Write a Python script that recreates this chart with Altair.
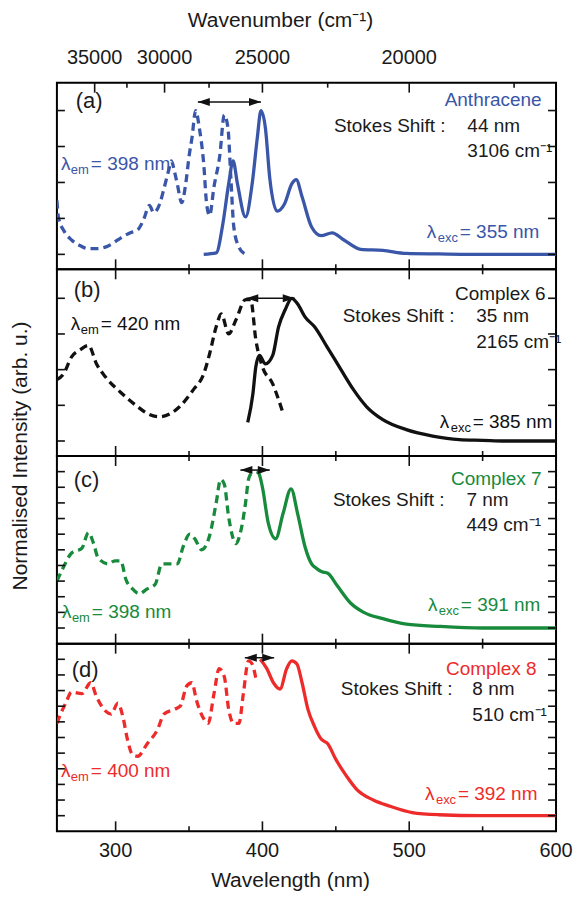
import altair as alt
import pandas as pd

FONT = "Liberation Sans"
BLUE = "#3a56a8"
GREEN = "#188a3c"
RED = "#ee2b2b"
BLACK = "#111111"
TXT = "#1a1a1a"

# ---------------- data (wavelength nm, normalised intensity) ----------------
# (a) Anthracene
ex_a_x = [260, 261, 265, 270, 276, 281, 287, 293, 297, 301.5, 306, 310, 315, 319, 323, 326, 330, 333, 336, 338,
          340, 342, 345, 348, 350, 352, 354.5, 357, 360, 362, 364, 367, 371, 374, 376.5, 378.5, 380.5, 384, 388.5]
ex_a_y = [0.375, 0.26, 0.16, 0.10, 0.06, 0.04, 0.04, 0.05, 0.07, 0.10, 0.13, 0.15, 0.17, 0.24, 0.34, 0.29, 0.35, 0.46, 0.58, 0.65,
          0.58, 0.49, 0.36, 0.51, 0.68, 0.81, 1.0, 0.88, 0.63, 0.35, 0.27, 0.47, 0.69, 0.97, 0.88, 0.53, 0.19, 0.05, 0.0]
em_a_x = [360, 368.5, 373, 377, 380, 383, 388.5, 393, 396.5, 399, 402, 405, 410, 415, 420, 423, 427, 433.5, 440,
          447.5, 455.5, 467, 482, 498, 520, 542, 570, 600]
em_a_y = [0.0, 0.01, 0.21, 0.49, 0.65, 0.49, 0.26, 0.49, 0.81, 1.0, 0.88, 0.53, 0.30, 0.35, 0.49, 0.52, 0.40, 0.19, 0.13,
          0.15, 0.10, 0.035, 0.028, 0.007, 0.003, 0.0, 0.0, 0.0]

# (b) Complex 6
ex_b_x = [260, 264.5, 270, 276, 281.5, 287, 293, 303.5, 315, 322, 330, 337, 343.5, 353, 360, 364, 368.5, 372, 377,
          382, 388.5, 392, 395.5, 400, 407, 411, 414.5]
ex_b_y = [0.43, 0.47, 0.59, 0.64, 0.67, 0.54, 0.45, 0.34, 0.24, 0.19, 0.17, 0.19, 0.24, 0.36, 0.47, 0.61, 0.80, 0.89, 0.75,
          0.85, 0.99, 0.99, 0.71, 0.52, 0.40, 0.29, 0.18]
em_b_x = [390, 393.5, 395.5, 398, 402, 407, 411, 415.5, 420, 424, 429, 435.5, 444, 453.5, 462, 471, 482, 498, 516,
          534, 550, 565, 600]
em_b_y = [0.13, 0.33, 0.52, 0.60, 0.54, 0.60, 0.80, 0.92, 1.0, 0.96, 0.87, 0.80, 0.66, 0.50, 0.36, 0.24, 0.15, 0.08, 0.035,
          0.01, 0.005, 0.0, 0.0]

# (c) Complex 7
ex_c_x = [260, 264.5, 270, 277, 281.5, 285, 288, 295, 299.5, 303.5, 307, 311.5, 316, 321.5, 327, 331.5, 337, 342, 346,
          350.5, 354, 358.5, 364, 368.5, 371.5, 374, 377, 382, 385, 388.5, 390.5, 392.5]
ex_c_y = [0.30, 0.39, 0.48, 0.51, 0.61, 0.54, 0.45, 0.41, 0.43, 0.43, 0.31, 0.25, 0.22, 0.25, 0.28, 0.41, 0.41, 0.41, 0.52,
          0.60, 0.57, 0.50, 0.59, 0.80, 0.95, 0.92, 0.71, 0.54, 0.61, 0.80, 0.95, 0.99]
em_c_x = [396, 397.5, 400, 404, 409, 414, 419.5, 424, 429, 433.5, 437, 440.5, 444.5, 451, 460, 469, 482, 498, 521, 550, 600]
em_c_y = [1.0, 0.99, 0.90, 0.67, 0.57, 0.73, 0.89, 0.73, 0.52, 0.41, 0.38, 0.36, 0.35, 0.27, 0.16, 0.10, 0.06, 0.025, 0.01,
          0.0, 0.0]

# (d) Complex 8
ex_d_x = [260, 262.5, 266, 270, 277, 283, 287, 293, 297, 301.5, 305, 308, 311.5, 315, 321.5, 328.5, 333, 340, 344,
          348.5, 352, 355, 360, 363, 367, 370.5, 374, 377, 380.5, 384, 387, 390.5, 393, 395.5]
ex_d_y = [0.59, 0.65, 0.72, 0.79, 0.78, 0.85, 0.76, 0.67, 0.65, 0.72, 0.63, 0.49, 0.39, 0.38, 0.46, 0.55, 0.65, 0.68, 0.70,
          0.83, 0.85, 0.74, 0.62, 0.59, 0.78, 0.94, 0.89, 0.68, 0.59, 0.59, 0.78, 0.99, 0.97, 0.88]
em_d_x = [398.5, 403, 407.5, 412, 416.5, 420, 423.5, 427, 431, 435.5, 440, 444.5, 450, 457.5, 464, 475.5, 487, 502, 520,
          550, 600]
em_d_y = [1.0, 0.94, 0.85, 0.81, 0.94, 0.99, 0.97, 0.85, 0.68, 0.57, 0.49, 0.46, 0.36, 0.25, 0.17, 0.10, 0.06, 0.02, 0.006,
          0.0, 0.0]

# arrows (Stokes shift, wavelength of tips) and their level
arrows = [(356, 399, 1.06), (389, 422, 1.0), (385, 405, 1.01), (388, 408, 1.01)]

# labels
panel_tags = ["(a)", "(b)", "(c)", "(d)"]
names = ["Anthracene", "Complex 6", "Complex 7", "Complex 8"]
shift_nm = ["44 nm", "35 nm", "7 nm", "8 nm"]
shift_cm = ["3106 cm⁻¹", "2165 cm⁻¹", "449 cm⁻¹", "510 cm⁻¹"]
lam_em = ["= 398 nm", "= 420 nm", "= 398 nm", "= 400 nm"]
lam_exc = ["= 355 nm", "= 385 nm", "= 391 nm", "= 392 nm"]
x_title = "Wavelength (nm)"
top_title = "Wavenumber (cm⁻¹)"
y_title = "Normalised Intensity (arb. u.)"

# axis ticks
nm_major = [300, 400, 500]
nm_minor = [350, 450, 550]
nm_labels = [300, 400, 500, 600]
wn_major = [35000, 30000, 25000, 20000]
wn_minor = [32500, 27500, 22500, 17500]

# ---------------- layout ----------------
W = 500
HEIGHTS = [187, 187, 188, 188]
DOMAINS = [(-0.104, 1.194), (-0.105, 1.203), (-0.1, 1.1), (-0.1, 1.1)]
YTICKS = [[0, 0.25, 0.5, 0.75, 1.0], [0, 0.25, 0.5, 0.75, 1.0],
          [round(i * 0.1, 1) for i in range(11)], [round(i * 0.1, 1) for i in range(11)]]
COLORS = [BLUE, BLACK, GREEN, RED]

# annotation anchors (data coords) per panel
POS = [
    dict(tag=(272.8, 1.069), name=(590.2, 1.076), ss=(448.7, 0.895), nm=(539.6, 0.895), cm=(539.6, 0.722),
         exc=(512.0, 0.153), em=(262.7, 0.625)),
    dict(tag=(271.5, 1.056), name=(592.9, 1.028), ss=(454.7, 0.874), nm=(545.7, 0.874), cm=(545.7, 0.692),
         exc=(520.8, 0.133), em=(269.4, 0.818)),
    dict(tag=(271.5, 0.946), name=(590.2, 0.953), ss=(448.0, 0.819), nm=(539.0, 0.819), cm=(539.0, 0.659),
         exc=(512.7, 0.149), em=(263.4, 0.104)),
    dict(tag=(270.1, 0.934), name=(586.8, 0.940), ss=(453.4, 0.812), nm=(543.0, 0.812), cm=(543.0, 0.646),
         exc=(510.7, 0.136), em=(262.7, 0.283)),
]

XSCALE = alt.Scale(domain=[260, 600], nice=False, zero=False)


def panel(i, ex_x, ex_y, em_x, em_y):
    H = HEIGHTS[i]
    col = COLORS[i]
    ys = alt.Scale(domain=list(DOMAINS[i]), nice=False, zero=False)

    def xs_(f="v"):
        return alt.X(f + ":Q", scale=XSCALE, axis=None)

    def ys_(f="v"):
        return alt.Y(f + ":Q", scale=ys, axis=None)

    layers = []
    ex_df = pd.DataFrame({"wl": ex_x, "val": ex_y})
    em_df = pd.DataFrame({"wl": em_x, "val": em_y})
    layers.append(alt.Chart(ex_df).mark_line(color=col, strokeWidth=3.3, strokeDash=[8, 5],
                                             interpolate="monotone", clip=True)
                  .encode(x=xs_("wl"), y=ys_("val")))
    layers.append(alt.Chart(em_df).mark_line(color=col, strokeWidth=3.3,
                                             interpolate="monotone", clip=True)
                  .encode(x=xs_("wl"), y=ys_("val")))

    # x ticks: bottom edge (inward)
    for vals, ln in ((nm_major, 10), (nm_minor, 5)):
        layers.append(alt.Chart(pd.DataFrame({"v": vals})).mark_rule(color=BLACK, strokeWidth=1.6)
                      .encode(x=xs_(), y=alt.value(H), y2=alt.value(H - ln)))
    # x ticks: top edge (inward)
    if i == 0:
        tops = (([1e7 / w for w in wn_major], 10), ([1e7 / w for w in wn_minor], 5))
    else:
        tops = ((nm_major, 10), (nm_minor, 5))
    for vals, ln in tops:
        layers.append(alt.Chart(pd.DataFrame({"v": vals})).mark_rule(color=BLACK, strokeWidth=1.6)
                      .encode(x=xs_(), y=alt.value(0), y2=alt.value(ln)))
    # y ticks (inward), left and right
    ydf = pd.DataFrame({"v": YTICKS[i]})
    layers.append(alt.Chart(ydf).mark_rule(color=BLACK, strokeWidth=1.6)
                  .encode(y=ys_(), x=alt.value(0), x2=alt.value(8)))
    layers.append(alt.Chart(ydf).mark_rule(color=BLACK, strokeWidth=1.6)
                  .encode(y=ys_(), x=alt.value(W), x2=alt.value(W - 8)))

    # axis labels / titles drawn as text
    if i == 0:
        tl = pd.DataFrame({"v": [1e7 / w for w in wn_major], "lab": [str(w) for w in wn_major]})
        layers.append(alt.Chart(tl).mark_text(font=FONT, fontSize=20, color=TXT, baseline="middle")
                      .encode(x=xs_(), y=alt.value(-25), text="lab:N"))
        layers.append(alt.Chart(pd.DataFrame({"t": [top_title]}))
                      .mark_text(font=FONT, fontSize=21, color=TXT, baseline="middle")
                      .encode(x=alt.value(224), y=alt.value(-62), text="t:N"))
    if i == 3:
        bl = pd.DataFrame({"v": nm_labels, "lab": [str(v) for v in nm_labels]})
        layers.append(alt.Chart(bl).mark_text(font=FONT, fontSize=20, color=TXT, baseline="middle")
                      .encode(x=xs_(), y=alt.value(H + 20), text="lab:N"))
        layers.append(alt.Chart(pd.DataFrame({"t": [x_title]}))
                      .mark_text(font=FONT, fontSize=21, color=TXT, baseline="middle")
                      .encode(x=alt.value(234), y=alt.value(H + 50), text="t:N"))
    if i == 1:
        layers.append(alt.Chart(pd.DataFrame({"t": [y_title]}))
                      .mark_text(font=FONT, fontSize=21, color=TXT, baseline="middle", angle=270)
                      .encode(x=alt.value(-36), y=alt.value(H), text="t:N"))

    # arrow
    a1, a2, ay = arrows[i]
    adf = pd.DataFrame({"x1": [a1], "x2": [a2], "y": [ay]})
    layers.append(alt.Chart(adf).mark_rule(color=BLACK, strokeWidth=1.5)
                  .encode(x=xs_("x1"), x2="x2:Q", y=ys_("y")))
    layers.append(alt.Chart(adf).mark_point(shape="M0,0L2.4,-0.8L2.4,0.8Z", size=100, filled=True,
                                            color=BLACK, opacity=1, strokeWidth=0)
                  .encode(x=xs_("x1"), y=ys_("y")))
    layers.append(alt.Chart(adf).mark_point(shape="M0,0L-2.4,-0.8L-2.4,0.8Z", size=100, filled=True,
                                            color=BLACK, opacity=1, strokeWidth=0)
                  .encode(x=xs_("x2"), y=ys_("y")))

    def text(pos, s, color, size=19, align="left", dx=0, dy=0):
        df = pd.DataFrame({"tx": [pos[0]], "ty": [pos[1]], "t": [s]})
        return (alt.Chart(df).mark_text(font=FONT, fontSize=size, color=color, align=align,
                                        baseline="middle", dx=dx, dy=dy)
                .encode(x=xs_("tx"), y=ys_("ty"), text="t:N"))

    p = POS[i]
    name_col = TXT if i == 1 else col
    layers.append(text(p["tag"], panel_tags[i], TXT, size=22))
    layers.append(text(p["name"], names[i], name_col, align="right"))
    layers.append(text(p["ss"], "Stokes Shift :", TXT))
    layers.append(text(p["nm"], shift_nm[i], TXT))
    layers.append(text(p["cm"], shift_cm[i], TXT))
    # lambda_exc
    layers.append(text(p["exc"], "λ", col))
    layers.append(text(p["exc"], "exc", col, size=13, dx=11, dy=6))
    layers.append(text(p["exc"], lam_exc[i], col, dx=33))
    # lambda_em
    layers.append(text(p["em"], "λ", col))
    layers.append(text(p["em"], "em", col, size=13, dx=10, dy=6))
    layers.append(text(p["em"], lam_em[i], col, dx=30))

    return alt.layer(*layers).properties(width=W, height=H)


panels = [
    panel(0, ex_a_x, ex_a_y, em_a_x, em_a_y),
    panel(1, ex_b_x, ex_b_y, em_b_x, em_b_y),
    panel(2, ex_c_x, ex_c_y, em_c_x, em_c_y),
    panel(3, ex_d_x, ex_d_y, em_d_x, em_d_y),
]

chart = (alt.vconcat(*panels, spacing=0)
         .properties(bounds="flush", padding={"left": 0, "top": 0, "right": 0, "bottom": 0})
         .configure(font=FONT)
         .configure_view(stroke="black", strokeWidth=2))

chart.save("out.html", embed_options={"renderer": "svg", "actions": False})
